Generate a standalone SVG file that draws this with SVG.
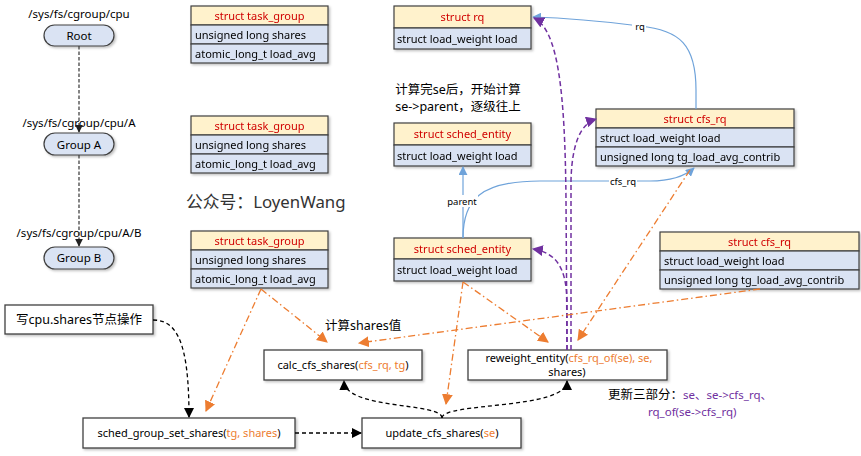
<svg xmlns="http://www.w3.org/2000/svg" width="861" height="456" viewBox="0 0 861 456">
<style>
text{font-family:"Noto Sans","Noto Sans CJK SC",sans-serif;fill:#000}
.p{font-size:11.5px}
.hd{fill:#FFF2CC;stroke:#404040;stroke-width:1.2}
.rw{fill:#DAE3F3;stroke:#404040;stroke-width:1.2}
.ht{font-size:11px;fill:#D00000;text-anchor:middle}
.rt{font-size:11px}
.fb{fill:#fff;stroke:#404040;stroke-width:1.3}
.ft{font-size:11px;text-anchor:middle}
.or{fill:#ED7D31}
.pu{fill:#7030A0}
.pill{fill:#DAE3F3;stroke:#404040;stroke-width:1.2}
.gd{fill:none;stroke:#444;stroke-width:1.3;stroke-dasharray:3.5,2}
.kd{fill:none;stroke:#000;stroke-width:1.3;stroke-dasharray:4,3}
.pd{fill:none;stroke:#7030A0;stroke-width:1.5;stroke-dasharray:5,3}
.bl{fill:none;stroke:#6FA3DA;stroke-width:1.2}
.od{fill:none;stroke:#ED7D31;stroke-width:1.3;stroke-dasharray:7,3,1.5,3}
.lbl{font-size:9.5px;text-anchor:middle}
.cn{font-size:12.5px}
</style>
<defs>
<filter id="sh" x="-5%" y="-5%" width="115%" height="130%"><feDropShadow dx="1.5" dy="1.5" stdDeviation="1" flood-color="#000" flood-opacity="0.25"/></filter>
<marker id="ak" viewBox="0 0 10 10" refX="9" refY="5" markerWidth="10" markerHeight="10" markerUnits="userSpaceOnUse" orient="auto"><path d="M0,0L10,5L0,10z" fill="#000"/></marker>
<marker id="ag" viewBox="0 0 10 10" refX="9" refY="5" markerWidth="8" markerHeight="8" markerUnits="userSpaceOnUse" orient="auto"><path d="M0,0L10,5L0,10z" fill="#222"/></marker>
<marker id="ap" viewBox="0 0 10 10" refX="9" refY="5" markerWidth="11" markerHeight="11" markerUnits="userSpaceOnUse" orient="auto"><path d="M0,0L10,5L0,10z" fill="#7030A0"/></marker>
<marker id="ao" viewBox="0 0 10 10" refX="9" refY="5" markerWidth="11" markerHeight="11" markerUnits="userSpaceOnUse" orient="auto"><path d="M0,0L10,5L0,10z" fill="#ED7D31"/></marker>
<marker id="ab" viewBox="0 0 10 10" refX="9" refY="5" markerWidth="9" markerHeight="9" markerUnits="userSpaceOnUse" orient="auto"><path d="M0,0L10,5L0,10z" fill="#6FA3DA"/></marker>
</defs>

<!-- cgroup hierarchy -->
<g id="root">
<text class="p" x="79" y="18" text-anchor="middle">/sys/fs/cgroup/cpu</text>
<rect class="pill" x="44" y="25" width="70" height="21" rx="10.5" filter="url(#sh)"/>
<text class="p" x="79" y="40" text-anchor="middle">Root</text>
</g>
<g id="groupA">
<text class="p" x="79" y="127" text-anchor="middle">/sys/fs/cgroup/cpu/A</text>
<rect class="pill" x="44" y="133" width="70" height="22" rx="11" filter="url(#sh)"/>
<text class="p" x="79" y="148.5" text-anchor="middle">Group A</text>
</g>
<g id="groupB">
<text class="p" x="79" y="237" text-anchor="middle">/sys/fs/cgroup/cpu/A/B</text>
<rect class="pill" x="44" y="247" width="70" height="22" rx="11" filter="url(#sh)"/>
<text class="p" x="79" y="262" text-anchor="middle">Group B</text>
</g>

<!-- task_group structs -->
<g id="tg1" filter="url(#sh)">
<rect class="hd" x="191" y="6" width="137" height="19"/>
<rect class="rw" x="191" y="25" width="137" height="19"/>
<rect class="rw" x="191" y="44" width="137" height="19"/>
<text class="ht" x="259.5" y="19.5">struct task_group</text>
<text class="rt" x="195" y="38.5">unsigned long shares</text>
<text class="rt" x="195" y="57.5">atomic_long_t load_avg</text>
</g>
<g id="tg2" filter="url(#sh)">
<rect class="hd" x="191" y="116" width="137" height="19"/>
<rect class="rw" x="191" y="135" width="137" height="19"/>
<rect class="rw" x="191" y="154" width="137" height="19"/>
<text class="ht" x="259.5" y="129.5">struct task_group</text>
<text class="rt" x="195" y="148.5">unsigned long shares</text>
<text class="rt" x="195" y="167.5">atomic_long_t load_avg</text>
</g>
<g id="tg3" filter="url(#sh)">
<rect class="hd" x="191" y="231" width="137" height="19"/>
<rect class="rw" x="191" y="250" width="137" height="19"/>
<rect class="rw" x="191" y="269" width="137" height="19"/>
<text class="ht" x="259.5" y="244.5">struct task_group</text>
<text class="rt" x="195" y="263.5">unsigned long shares</text>
<text class="rt" x="195" y="282.5">atomic_long_t load_avg</text>
</g>

<text x="186" y="208" style="font-size:16.8px;fill:#333">公众号：LoyenWang</text>

<!-- rq / sched_entity / cfs_rq -->
<g id="rq" filter="url(#sh)">
<rect class="hd" x="394" y="6" width="137" height="22"/>
<rect class="rw" x="394" y="28" width="137" height="21"/>
<text class="ht" x="462.5" y="21">struct rq</text>
<text class="rt" x="397" y="42.5">struct load_weight load</text>
</g>
<g id="note1">
<text class="cn" x="458" y="94" text-anchor="middle">计算完se后，开始计算</text>
<text class="cn" x="458" y="111" text-anchor="middle">se-&gt;parent，逐级往上</text>
</g>
<g id="se1" filter="url(#sh)">
<rect class="hd" x="394" y="123" width="137" height="22"/>
<rect class="rw" x="394" y="145" width="137" height="21"/>
<text class="ht" x="462.5" y="138">struct sched_entity</text>
<text class="rt" x="397" y="159.5">struct load_weight load</text>
</g>
<g id="se2" filter="url(#sh)">
<rect class="hd" x="394" y="238" width="137" height="21"/>
<rect class="rw" x="394" y="259" width="137" height="22"/>
<text class="ht" x="462.5" y="252.5">struct sched_entity</text>
<text class="rt" x="397" y="274">struct load_weight load</text>
</g>
<g id="cfsrq1" filter="url(#sh)">
<rect class="hd" x="596" y="109" width="198" height="19"/>
<rect class="rw" x="596" y="128" width="198" height="19"/>
<rect class="rw" x="596" y="147" width="198" height="19"/>
<text class="ht" x="695" y="122.5">struct cfs_rq</text>
<text class="rt" x="600" y="141.5">struct load_weight load</text>
<text class="rt" x="600" y="160.5">unsigned long tg_load_avg_contrib</text>
</g>
<g id="cfsrq2" filter="url(#sh)">
<rect class="hd" x="660" y="232" width="199" height="19"/>
<rect class="rw" x="660" y="251" width="199" height="19"/>
<rect class="rw" x="660" y="270" width="199" height="19"/>
<text class="ht" x="759.5" y="245.5">struct cfs_rq</text>
<text class="rt" x="664" y="264.5">struct load_weight load</text>
<text class="rt" x="664" y="283.5">unsigned long tg_load_avg_contrib</text>
</g>

<!-- function boxes -->
<g id="write">
<rect class="fb" x="5" y="305" width="148" height="29" filter="url(#sh)"/>
<text class="cn" x="79" y="324" text-anchor="middle">写cpu.shares节点操作</text>
</g>
<g id="calc">
<rect class="fb" x="264" y="350" width="158" height="30" filter="url(#sh)"/>
<text class="ft" x="343" y="369">calc_cfs_shares(<tspan class="or">cfs_rq, tg</tspan>)</text>
</g>
<g id="reweight">
<rect class="fb" x="468" y="350" width="199" height="30" filter="url(#sh)"/>
<text class="ft" x="569" y="362">reweight_entity(<tspan class="or">cfs_rq_of(se), se,</tspan></text>
<text class="ft" x="567" y="376">shares)</text>
</g>
<g id="sgss">
<rect class="fb" x="83" y="418" width="212" height="30" filter="url(#sh)"/>
<text class="ft" x="189" y="437">sched_group_set_shares(<tspan class="or">tg, shares</tspan>)</text>
</g>
<g id="ucs">
<rect class="fb" x="362" y="418" width="159" height="30" filter="url(#sh)"/>
<text class="ft" x="442" y="437">update_cfs_shares(<tspan class="or">se</tspan>)</text>
</g>
<g id="notes">
<text class="cn" x="325" y="330">计算shares值</text>
<text class="cn" x="608" y="399">更新三部分：<tspan class="pu" style="font-size:11.5px">se、se-&gt;cfs_rq、</tspan></text>
<text x="648" y="416" class="pu" style="font-size:11.5px">rq_of(se-&gt;cfs_rq)</text>
</g>

<!-- connectors -->
<g id="connectors">
<path class="gd" d="M79,46 L79,132" marker-end="url(#ag)"/>
<path class="gd" d="M79,155 L79,246" marker-end="url(#ag)"/>
<path class="kd" d="M153,320 C178,320 189,345 189,417" marker-end="url(#ak)"/>
<path class="kd" d="M295,433 L361,433" marker-end="url(#ak)"/>
<path class="kd" d="M442,418 C442,402 345,410 344,381" marker-end="url(#ak)"/>
<path class="kd" d="M442,418 C442,402 567,410 567,381" marker-end="url(#ak)"/>

<path class="bl" d="M696,109 L696,90 C696,45 680,30 640,26 C600,21 565,18 533,17" marker-end="url(#ab)"/>
<path class="bl" d="M463,238 L463,167" marker-end="url(#ab)"/>
<path class="bl" d="M463,238 C463,200 480,181 540,181 L650,181 C670,181 685,176 694,168" marker-end="url(#ab)"/>
<rect x="632" y="20" width="14" height="12" fill="#fff"/>
<text class="lbl" x="640" y="30">rq</text>
<rect x="446" y="195" width="32" height="12" fill="#fff"/>
<text class="lbl" x="462" y="205">parent</text>
<rect x="609" y="176" width="28" height="11" fill="#fff"/>
<text class="lbl" x="623" y="185">cfs_rq</text>

<path class="pd" d="M567,350 L566,200 C565,90 558,30 534,18" marker-end="url(#ap)"/>
<path class="pd" d="M571,350 L571,180 C572,145 580,124 596,119" marker-end="url(#ap)"/>
<path class="pd" d="M567,350 L567,300 C566,270 558,253 533,249" marker-end="url(#ap)"/>

<path class="od" d="M261,289 L206,411" marker-end="url(#ao)"/>
<path class="od" d="M261,289 L327,342" marker-end="url(#ao)"/>
<path class="od" d="M463,282 L446,404" marker-end="url(#ao)"/>
<path class="od" d="M463,282 L548,342" marker-end="url(#ao)"/>
<path class="od" d="M760,289 L359,343" marker-end="url(#ao)"/>
<path class="od" d="M690,170 L578,340" marker-end="url(#ao)"/>
</g>
</svg>
